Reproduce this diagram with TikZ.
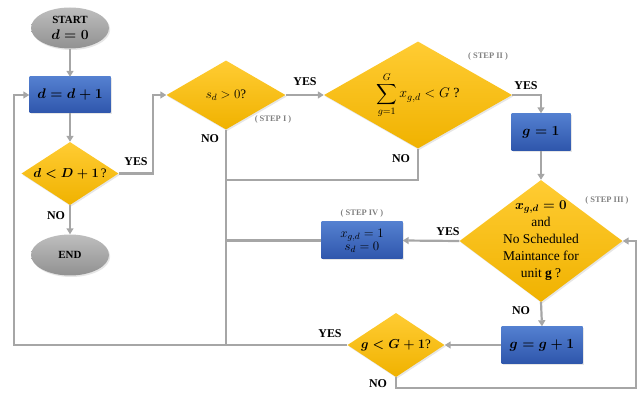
\documentclass[tikz,border=0pt]{standalone}
\usepackage{fix-cm}
\usepackage{amsmath}
\usepackage{fontspec}
\setmainfont{Liberation Serif}
\usetikzlibrary{shapes.geometric,arrows.meta,shadows}
\definecolor{linegray}{RGB}{166,166,166}
\definecolor{stepgray}{RGB}{128,128,128}
\definecolor{goldtop}{RGB}{255,204,51}
\definecolor{goldbot}{RGB}{240,178,0}
\definecolor{bluetop}{RGB}{84,128,208}
\definecolor{bluebot}{RGB}{47,86,172}
\definecolor{graytop}{RGB}{190,190,190}
\definecolor{graybot}{RGB}{145,145,145}
\begin{document}
\begin{tikzpicture}[>={Triangle[length=6bp,width=7bp]},
  flow/.style={draw=linegray,line width=2.2bp},
  soft/.style={drop shadow={shadow xshift=1.2bp,shadow yshift=-1.5bp,opacity=0.2}},
  term/.style={ellipse,soft,top color=graytop,bottom color=graybot,minimum width=78bp,minimum height=41bp,inner sep=0pt,align=center},
  proc/.style={rectangle,soft,top color=bluetop,bottom color=bluebot,minimum width=81bp,minimum height=36bp,inner sep=0pt,align=center,font=\fontsize{13}{15}\selectfont},
  cond/.style={diamond,soft,top color=goldtop,bottom color=goldbot,inner sep=0pt,align=center,font=\fontsize{13}{15}\selectfont},
  yn/.style={font=\fontsize{12}{14}\selectfont\bfseries},
  steplbl/.style={font=\fontsize{8.5}{10}\selectfont\bfseries,text=stepgray}]
\useasboundingbox (0,0) rectangle (642bp,393bp);
% boxes
\node (Start) at (70bp,365bp) [term,font=\fontsize{11}{16}\selectfont\bfseries\boldmath] {START\\ {\fontsize{14}{16}\selectfont $d = 0$}};
\node (Inc) at (70bp,298bp) [proc,font=\fontsize{14}{16}\selectfont\boldmath] {$d = d + 1$};
\node (CheckD) at (70bp,219.5bp) [cond,minimum width=97bp,minimum height=63bp,aspect=1.54,font=\fontsize{13}{15}\selectfont\boldmath] {$d < D + 1$\,?};
\node (End) at (70bp,138bp) [term,font=\fontsize{11}{13}\selectfont\bfseries] {END};
\node (Sd) at (226bp,298bp) [cond,minimum width=119bp,minimum height=69bp,aspect=1.72] {$s_d > 0$?};
\node (Sum) at (418bp,298bp) [cond,minimum width=188bp,minimum height=107bp,aspect=1.76,font=\fontsize{14}{16}\selectfont] {$\displaystyle\sum_{g=1}^{G} x_{g,d} < G$ ?};
\node (G1) at (541bp,261bp) [proc,minimum width=59bp,minimum height=37bp,font=\fontsize{14}{16}\selectfont\boldmath] {$g = 1$};
\node (Step3) at (541bp,152bp) [cond,minimum width=163bp,minimum height=122bp,aspect=1.34] {};
\node (Step3txt) at (Step3) [align=center,font=\fontsize{13.5}{17}\selectfont] {{\boldmath$x_{g,d} = 0$}\\and\\No Scheduled\\Maintance for\\unit \textbf{g} ?};
\node (Step4) at (362bp,152.5bp) [proc,minimum height=37bp] {$x_{g,d} = 1$\\[-2bp]$s_d = 0$};
\node (Ginc) at (542bp,48bp) [proc,minimum height=37bp,font=\fontsize{14}{16}\selectfont\boldmath] {$g = g + 1$};
\node (CheckG) at (396bp,48bp) [cond,minimum width=97bp,minimum height=64bp,aspect=1.5,font=\fontsize{13}{15}\selectfont\boldmath] {$g < G + 1$?};
% step labels
\node (S1) at (273bp,274bp) [steplbl] {( STEP I )};
\node (S2) at (488bp,337bp) [steplbl] {( STEP II )};
\node (S3) at (607bp,193bp) [steplbl] {( STEP III )};
\node (S4) at (362bp,180bp) [steplbl] {( STEP IV )};
% corners
\coordinate (back) at (14bp,48bp);
\coordinate (noSum) at (226bp,213bp);
\coordinate (turnD) at (153bp,219.5bp);
\coordinate (loopR) at (636bp,5bp);
% connectors
\draw [flow,->] (Start) -- (Inc);
\draw [flow,->] (Inc) -- (CheckD);
\draw [flow,->] (CheckD) -- (End);
\node (n1) at (56bp,177bp) [yn] {NO};
\draw [flow,->] (CheckD.east) -- (turnD) |- (Sd.west);
\node (y1) at (136bp,231bp) [yn] {YES};
\draw [flow,->] (Sd.east) -- (Sum.west);
\node (y2) at (305bp,311bp) [yn] {YES};
\draw [flow] (Sd.south) -- (Sd.south |- back);
\node (n2) at (210bp,254bp) [yn] {NO};
\draw [flow] (Sum.south) |- (noSum);
\node (n3) at (401bp,234bp) [yn] {NO};
\draw [flow,->] (Sum.east) -| (G1.north);
\node (y3) at (526bp,307bp) [yn] {YES};
\draw [flow,->] (G1) -- (Step3);
\draw [flow,->] (Step3.west) -- (Step4.east);
\node (y4) at (448bp,161bp) [yn] {YES};
\draw [flow] (Step4.west) -- (Step4.west -| Sd.south);
\draw [flow,->] (Step3.south) -- (Ginc.north);
\node (n4) at (521bp,82bp) [yn] {NO};
\draw [flow,->] (Ginc.west) -- (CheckG.east);
\draw [flow,->] (CheckG.west) -- (back) |- (Inc.west);
\node (y5) at (330bp,59bp) [yn] {YES};
\draw [flow,->] (CheckG.south) |- (loopR) |- (Step3.east);
\node (n5) at (378bp,9bp) [yn] {NO};
\end{tikzpicture}
\end{document}
